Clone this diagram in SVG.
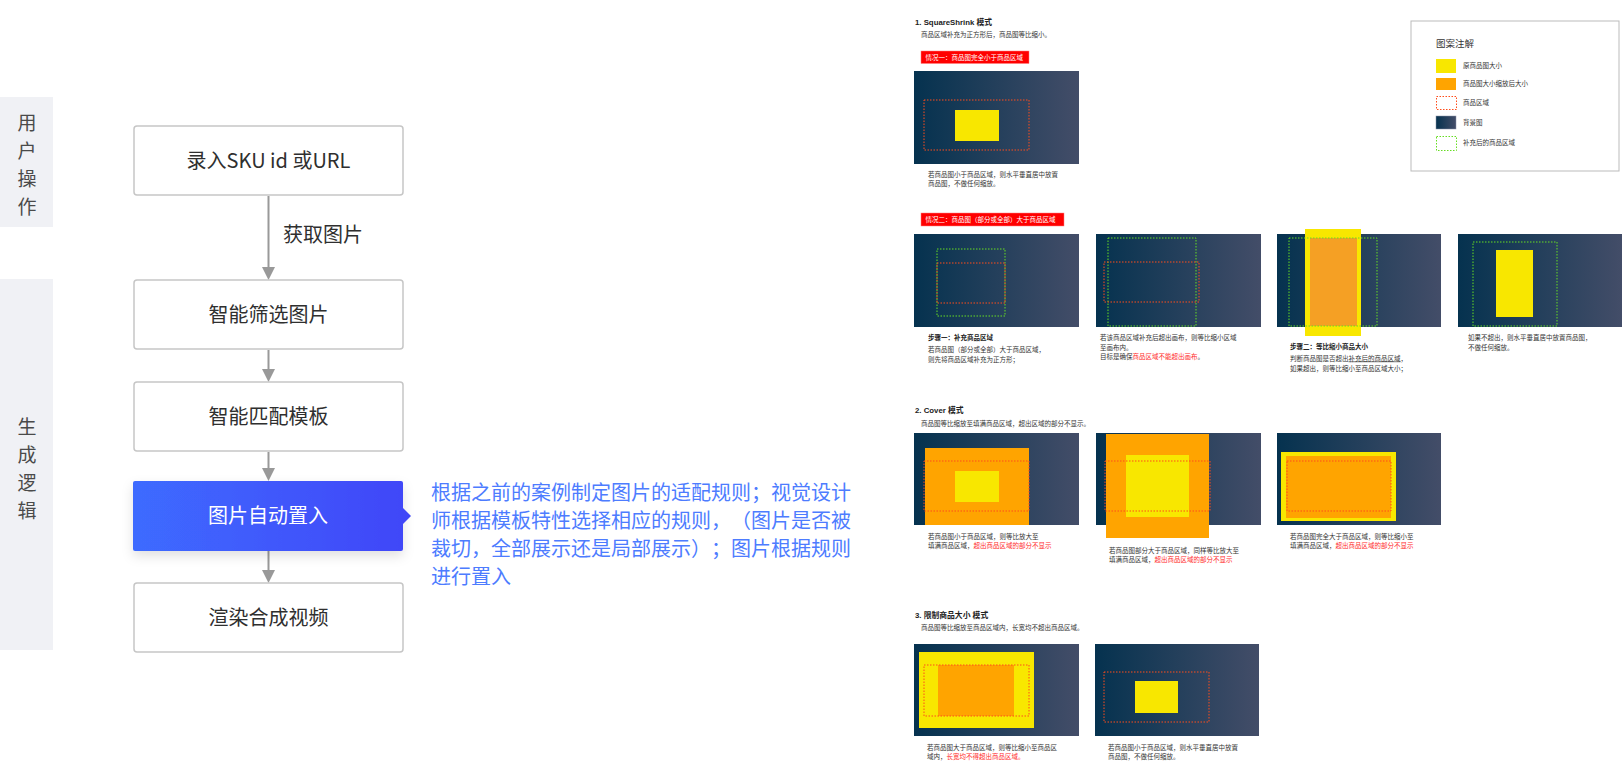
<svg xmlns="http://www.w3.org/2000/svg" width="1623" height="771" viewBox="0 0 1623 771">
<style>
.band{fill:#f0f1f5}
.bandt{font-family:"Noto Sans CJK SC",sans-serif;font-size:19px;fill:#4a4a4a;text-anchor:middle}
.box{fill:#fff;stroke:#c6c6c6;stroke-width:1.5}
.boxt{font-family:"Noto Sans CJK SC",sans-serif;font-size:20px;fill:#2f2f2f;text-anchor:middle}
.conn{stroke:#999;stroke-width:2;fill:none}
.head{fill:#999}
.desc{font-family:"Noto Sans CJK SC",sans-serif;font-size:20px;fill:#4d7cff;text-spacing-trim:space-all}
.img{fill:url(#bg)}
.yl{fill:#f8e700}
.or{fill:#ffa400}
.or2{fill:#f5a024}
.rd{fill:none;stroke:#ff4d1a;stroke-width:1;stroke-dasharray:1.5 1.5}
.gr{fill:none;stroke:#66dd22;stroke-width:1;stroke-dasharray:1.5 1.5}
.ttl{font-family:"Liberation Sans","Noto Sans CJK SC",sans-serif;font-size:7.8px;font-weight:bold;fill:#222}
.cap{font-family:"Noto Sans CJK SC",sans-serif;font-size:6.5px;fill:#333}
.capb{font-family:"Noto Sans CJK SC",sans-serif;font-size:6.5px;fill:#222;font-weight:bold}
.red{fill:#ff2a2a}
.lbl{fill:#ff0000;stroke:#ff8080;stroke-width:0.5}
.lblt{font-family:"Noto Sans CJK SC",sans-serif;font-size:6.5px;fill:#fff}
</style>
<defs>
<linearGradient id="bg" x1="0" y1="0" x2="1" y2="0">
<stop offset="0" stop-color="#05324f"/>
<stop offset="1" stop-color="#434d68"/>
</linearGradient>
<linearGradient id="blue" x1="0" y1="0" x2="1" y2="0">
<stop offset="0" stop-color="#3e6bff"/>
<stop offset="1" stop-color="#4147f8"/>
</linearGradient>
<filter id="sh" x="-20%" y="-30%" width="140%" height="170%">
<feDropShadow dx="0" dy="5" stdDeviation="6" flood-color="#000" flood-opacity="0.12"/>
</filter>
</defs>
<rect width="1623" height="771" fill="#fff"/>

<g id="lane-user">
<rect class="band" x="0" y="97" width="53" height="130"/>
<text class="bandt" x="27" y="130">用</text>
<text class="bandt" x="27" y="158">户</text>
<text class="bandt" x="27" y="186">操</text>
<text class="bandt" x="27" y="214">作</text>
</g>
<g id="lane-gen">
<rect class="band" x="0" y="279" width="53" height="371"/>
<text class="bandt" x="27" y="434">生</text>
<text class="bandt" x="27" y="462">成</text>
<text class="bandt" x="27" y="490">逻</text>
<text class="bandt" x="27" y="518">辑</text>
</g>

<g id="connectors">
<line class="conn" x1="268.5" y1="196" x2="268.5" y2="268"/>
<polygon class="head" points="262,267 275,267 268.5,280"/>
<line class="conn" x1="268.5" y1="350" x2="268.5" y2="370"/>
<polygon class="head" points="262,369 275,369 268.5,382"/>
<line class="conn" x1="268.5" y1="452" x2="268.5" y2="469"/>
<polygon class="head" points="262,468 275,468 268.5,481"/>
<line class="conn" x1="268.5" y1="551" x2="268.5" y2="571"/>
<polygon class="head" points="262,570 275,570 268.5,583"/>
<text class="boxt" x="283" y="242" style="text-anchor:start">获取图片</text>
</g>

<g id="node-input">
<rect class="box" x="134" y="126" width="269" height="69" rx="3"/>
<text class="boxt" x="268.5" y="168">录入SKU id 或URL</text>
</g>
<g id="node-filter">
<rect class="box" x="134" y="280" width="269" height="69" rx="3"/>
<text class="boxt" x="268.5" y="322">智能筛选图片</text>
</g>
<g id="node-match">
<rect class="box" x="134" y="382" width="269" height="69" rx="3"/>
<text class="boxt" x="268.5" y="424">智能匹配模板</text>
</g>
<g id="node-place">
<rect x="133" y="481" width="270" height="70" rx="2" fill="url(#blue)" filter="url(#sh)"/>
<polygon points="403,508 411,516 403,524" fill="#4147f8"/>
<text class="boxt" x="268" y="523" style="fill:#fff">图片自动置入</text>
</g>
<g id="node-render">
<rect class="box" x="134" y="583" width="269" height="69" rx="3"/>
<text class="boxt" x="268.5" y="625">渲染合成视频</text>
</g>

<g id="note">
<text class="desc" x="431" y="499.5">根据之前的案例制定图片的适配规则；视觉设计</text>
<text class="desc" x="431" y="527.5">师根据模板特性选择相应的规则，（图片是否被</text>
<text class="desc" x="431" y="555.5">裁切，全部展示还是局部展示）；图片根据规则</text>
<text class="desc" x="431" y="583.5">进行置入</text>
</g>

<g id="section1">
<text class="ttl" x="915" y="25">1. SquareShrink 模式</text>
<text class="cap" x="921" y="36.5">商品区域补充为正方形后，商品图等比缩小。</text>
<rect class="lbl" x="921" y="51" width="108" height="12.5"/>
<text class="lblt" x="925.5" y="59.7">情况一：商品图完全小于商品区域</text>
<rect class="img" x="914" y="71" width="165" height="93"/>
<rect class="rd" x="924" y="100" width="105" height="50"/>
<rect class="yl" x="955" y="110" width="44" height="31"/>
<text class="cap" x="928" y="177.3">若商品图小于商品区域，则水平垂直居中放置</text>
<text class="cap" x="928" y="186.3">商品图，不做任何缩放。</text>

<rect class="lbl" x="921" y="213" width="143" height="13"/>
<text class="lblt" x="925.5" y="222">情况二：商品图（部分或全部）大于商品区域</text>

<rect class="img" x="914" y="234" width="165" height="93"/>
<rect class="gr" x="937" y="249" width="68" height="67"/>
<rect class="rd" x="937" y="263" width="68" height="40"/>
<text class="capb" x="928" y="339.5">步骤一：补充商品区域</text>
<text class="cap" x="928" y="351.5">若商品图（部分或全部）大于商品区域，</text>
<text class="cap" x="928" y="361.5">则先将商品区域补充为正方形；</text>

<rect class="img" x="1096" y="234" width="165" height="93"/>
<rect class="gr" x="1108" y="238" width="88" height="88"/>
<rect class="rd" x="1104" y="262" width="95" height="40"/>
<text class="cap" x="1100" y="339.5">若该商品区域补充后超出画布，则等比缩小区域</text>
<text class="cap" x="1100" y="349.5">至画布内。</text>
<text class="cap" x="1100" y="358.5">目标是确保<tspan class="red">商品区域不能超出画布</tspan>。</text>

<rect class="img" x="1277" y="234" width="164" height="93"/>
<rect class="yl" x="1305" y="229" width="56" height="107"/>
<rect class="or2" x="1310" y="238" width="47" height="88"/>
<rect class="gr" x="1289" y="238" width="88" height="88"/>
<text class="capb" x="1290" y="348.5">步骤二：等比缩小商品大小</text>
<text class="cap" x="1290" y="360.5">判断商品图是否超出<tspan text-decoration="underline">补充后的商品区域</tspan>，</text>
<text class="cap" x="1290" y="370.5">如果超出，则等比缩小至商品区域大小；</text>

<rect class="img" x="1458" y="234" width="164" height="93"/>
<rect class="gr" x="1473" y="242" width="84" height="84"/>
<rect class="yl" x="1496" y="250" width="37" height="67"/>
<text class="cap" x="1468" y="339.5">如果不超出，则水平垂直居中放置商品图，</text>
<text class="cap" x="1468" y="349.5">不做任何缩放。</text>
</g>

<g id="legend">
<rect x="1411" y="21" width="208" height="150" fill="#fff" stroke="#bbb" stroke-width="1"/>
<text x="1436" y="46.5" style="font-family:'Noto Sans CJK SC',sans-serif;font-size:9.5px;fill:#333">图案注解</text>
<rect class="yl" x="1436" y="59" width="20" height="14"/>
<rect class="or" x="1436" y="78" width="20" height="12"/>
<rect class="rd" x="1436.5" y="96.5" width="20" height="13"/>
<rect class="img" x="1436" y="116" width="20" height="13" stroke="#8a93a8" stroke-width="0.5"/>
<rect class="gr" x="1436.5" y="136.5" width="20" height="14"/>
<text class="cap" x="1463" y="68.3">原商品图大小</text>
<text class="cap" x="1463" y="86.3">商品图大小缩放后大小</text>
<text class="cap" x="1463" y="104.8">商品区域</text>
<text class="cap" x="1463" y="124.8">背景图</text>
<text class="cap" x="1463" y="145.3">补充后的商品区域</text>
</g>

<g id="section2">
<text class="ttl" x="915" y="413">2. Cover 模式</text>
<text class="cap" x="921" y="425.5">商品图等比缩放至填满商品区域，超出区域的部分不显示。</text>

<rect class="img" x="914" y="433" width="165" height="92"/>
<rect class="or" x="925" y="448" width="104" height="77"/>
<rect class="yl" x="955" y="471" width="44" height="31"/>
<rect class="rd" x="924" y="461" width="105" height="50"/>
<text class="cap" x="928" y="538.5">若商品图小于商品区域，则等比放大至</text>
<text class="cap" x="928" y="547.5">填满商品区域，<tspan class="red">超出商品区域的部分不显示</tspan></text>

<rect class="img" x="1096" y="433" width="165" height="92"/>
<rect class="or" x="1106" y="434" width="103" height="104"/>
<rect class="yl" x="1126" y="455" width="63" height="62"/>
<rect class="rd" x="1105" y="461" width="105" height="50"/>
<text class="cap" x="1109" y="552.5">若商品图部分大于商品区域，同样等比放大至</text>
<text class="cap" x="1109" y="561.5">填满商品区域，<tspan class="red">超出商品区域的部分不显示</tspan></text>

<rect class="img" x="1277" y="433" width="164" height="92"/>
<rect class="yl" x="1281" y="452" width="115" height="69"/>
<rect class="or" x="1286" y="456" width="105" height="62"/>
<rect class="rd" x="1287" y="461" width="104" height="50"/>
<text class="cap" x="1290" y="538.5">若商品图完全大于商品区域，则等比缩小至</text>
<text class="cap" x="1290" y="547.5">填满商品区域，<tspan class="red">超出商品区域的部分不显示</tspan></text>
</g>

<g id="section3">
<text class="ttl" x="915" y="618">3. 限制商品大小 模式</text>
<text class="cap" x="921" y="629.5">商品图等比缩放至商品区域内，长宽均不超出商品区域。</text>

<rect class="img" x="914" y="644" width="165" height="92"/>
<rect class="yl" x="919" y="652" width="115" height="76"/>
<rect class="or" x="938" y="665" width="76" height="51"/>
<rect class="rd" x="924" y="665" width="105" height="51"/>
<text class="cap" x="927" y="749.5">若商品图大于商品区域，则等比缩小至商品区</text>
<text class="cap" x="927" y="758.5">域内，<tspan class="red">长宽均不得超出商品区域。</tspan></text>

<rect class="img" x="1095" y="644" width="164" height="92"/>
<rect class="rd" x="1104" y="672" width="105" height="50"/>
<rect class="yl" x="1135" y="681" width="43" height="32"/>
<text class="cap" x="1108" y="749.5">若商品图小于商品区域，则水平垂直居中放置</text>
<text class="cap" x="1108" y="758.5">商品图，不做任何缩放。</text>
</g>
</svg>
